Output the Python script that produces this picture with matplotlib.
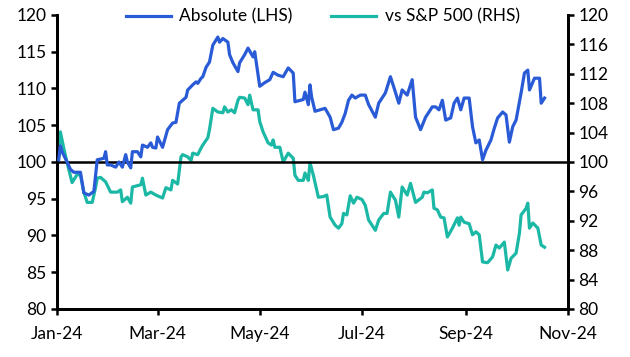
import numpy as np
import pandas as pd
import matplotlib
matplotlib.use("Agg")
import matplotlib.pyplot as plt
import matplotlib.dates as mdates

plt.rcParams['font.family'] = ['Lato', 'DejaVu Sans']

# Absolute index (LHS)
abs_dates = ["2024-01-02", "2024-01-03", "2024-01-04", "2024-01-07", "2024-01-09", "2024-01-11",
             "2024-01-15", "2024-01-17", "2024-01-20", "2024-01-23", "2024-01-25", "2024-01-29",
             "2024-01-30", "2024-01-31", "2024-02-02", "2024-02-05", "2024-02-07", "2024-02-09",
             "2024-02-11", "2024-02-12", "2024-02-14", "2024-02-15", "2024-02-18", "2024-02-20",
             "2024-02-21", "2024-02-24", "2024-02-26", "2024-02-27", "2024-02-29", "2024-03-01",
             "2024-03-04", "2024-03-07", "2024-03-10", "2024-03-12", "2024-03-14", "2024-03-18",
             "2024-03-19", "2024-03-22", "2024-03-24", "2024-03-25", "2024-03-27", "2024-03-28",
             "2024-03-30", "2024-04-01", "2024-04-03", "2024-04-06", "2024-04-07", "2024-04-09",
             "2024-04-12", "2024-04-13", "2024-04-15", "2024-04-18", "2024-04-19", "2024-04-22",
             "2024-04-24", "2024-04-27", "2024-04-28", "2024-05-01", "2024-05-04", "2024-05-07",
             "2024-05-09", "2024-05-12", "2024-05-15", "2024-05-18", "2024-05-21", "2024-05-22",
             "2024-05-27", "2024-05-28", "2024-05-30", "2024-05-31", "2024-06-01", "2024-06-03",
             "2024-06-06", "2024-06-09", "2024-06-12", "2024-06-14", "2024-06-17", "2024-06-19",
             "2024-06-21", "2024-06-23", "2024-06-25", "2024-06-27", "2024-06-30", "2024-07-03",
             "2024-07-05", "2024-07-09", "2024-07-11", "2024-07-15", "2024-07-18", "2024-07-20",
             "2024-07-23", "2024-07-25", "2024-07-28", "2024-07-31", "2024-08-02", "2024-08-05",
             "2024-08-08", "2024-08-12", "2024-08-14", "2024-08-16", "2024-08-18", "2024-08-20",
             "2024-08-23", "2024-08-25", "2024-08-27", "2024-08-29", "2024-08-31", "2024-09-03",
             "2024-09-05", "2024-09-07", "2024-09-09", "2024-09-11", "2024-09-13", "2024-09-16",
             "2024-09-18", "2024-09-20", "2024-09-23", "2024-09-25", "2024-09-27", "2024-09-29",
             "2024-10-01", "2024-10-04", "2024-10-06", "2024-10-08", "2024-10-09", "2024-10-12",
             "2024-10-15", "2024-10-16", "2024-10-18"]
abs_values = [100.3, 102.2, 101.4, 100.0, 99.0, 98.6,
              98.6, 95.8, 95.5, 96.0, 100.3, 100.5,
              101.4, 99.6, 99.6, 99.3, 100.0, 99.3,
              101.0, 100.0, 99.2, 101.4, 101.4, 100.7,
              102.3, 102.0, 102.6, 102.0, 101.9, 103.4,
              102.0, 104.4, 105.3, 105.4, 108.0, 108.8,
              109.8, 110.5, 110.9, 110.7, 111.4, 111.6,
              112.9, 113.6, 115.9, 117.0, 116.3, 116.8,
              116.3, 114.6, 113.5, 112.3, 113.5, 114.6,
              115.5, 114.3, 115.0, 110.3, 110.8, 111.2,
              112.2, 111.8, 111.6, 112.8, 112.1, 108.2,
              108.5, 109.5, 107.8, 110.5, 108.8, 106.9,
              107.1, 107.3, 106.1, 104.4, 104.6, 105.4,
              106.6, 108.4, 109.1, 108.7, 109.1, 109.1,
              107.8, 106.1, 108.0, 109.4, 111.6, 110.2,
              108.0, 109.8, 109.1, 111.2, 106.1, 104.4,
              106.1, 107.5, 107.5, 107.1, 108.4, 105.7,
              106.0, 108.0, 108.7, 107.1, 108.7, 108.7,
              104.8, 102.6, 103.0, 100.3, 101.6, 103.0,
              104.6, 106.0, 106.8, 106.4, 102.7, 104.8,
              105.7, 109.4, 112.1, 112.5, 109.8, 111.4,
              111.4, 108.0, 108.7]

# Relative to S&P 500 (RHS)
rel_dates = ["2024-01-02", "2024-01-03", "2024-01-05", "2024-01-07", "2024-01-10", "2024-01-13",
             "2024-01-15", "2024-01-17", "2024-01-19", "2024-01-22", "2024-01-24", "2024-01-25",
             "2024-01-27", "2024-01-30", "2024-02-02", "2024-02-06", "2024-02-08", "2024-02-09",
             "2024-02-12", "2024-02-14", "2024-02-15", "2024-02-20", "2024-02-21", "2024-02-23",
             "2024-02-26", "2024-02-29", "2024-03-04", "2024-03-06", "2024-03-09", "2024-03-10",
             "2024-03-13", "2024-03-15", "2024-03-16", "2024-03-19", "2024-03-21", "2024-03-22",
             "2024-03-25", "2024-03-27", "2024-03-28", "2024-03-31", "2024-04-01", "2024-04-03",
             "2024-04-06", "2024-04-09", "2024-04-10", "2024-04-12", "2024-04-14", "2024-04-16",
             "2024-04-18", "2024-04-19", "2024-04-22", "2024-04-24", "2024-04-25", "2024-04-27",
             "2024-04-30", "2024-05-01", "2024-05-03", "2024-05-06", "2024-05-08", "2024-05-09",
             "2024-05-10", "2024-05-13", "2024-05-15", "2024-05-18", "2024-05-21", "2024-05-22",
             "2024-05-24", "2024-05-27", "2024-05-28", "2024-05-30", "2024-05-31", "2024-06-02",
             "2024-06-05", "2024-06-08", "2024-06-10", "2024-06-12", "2024-06-15", "2024-06-17",
             "2024-06-19", "2024-06-20", "2024-06-22", "2024-06-24", "2024-06-26", "2024-06-28",
             "2024-07-01", "2024-07-03", "2024-07-05", "2024-07-09", "2024-07-11", "2024-07-14",
             "2024-07-16", "2024-07-18", "2024-07-21", "2024-07-23", "2024-07-25", "2024-07-28",
             "2024-07-30", "2024-08-02", "2024-08-06", "2024-08-07", "2024-08-09", "2024-08-12",
             "2024-08-13", "2024-08-15", "2024-08-17", "2024-08-19", "2024-08-21", "2024-08-24",
             "2024-08-27", "2024-08-28", "2024-08-29", "2024-08-31", "2024-09-03", "2024-09-05",
             "2024-09-07", "2024-09-09", "2024-09-11", "2024-09-14", "2024-09-17", "2024-09-19",
             "2024-09-21", "2024-09-24", "2024-09-26", "2024-09-28", "2024-10-01", "2024-10-03",
             "2024-10-04", "2024-10-07", "2024-10-08", "2024-10-09", "2024-10-11", "2024-10-14",
             "2024-10-16", "2024-10-18"]
rel_values = [100.8, 104.1, 101.9, 99.9, 97.2, 98.3,
              98.2, 95.9, 94.5, 94.5, 96.5, 97.8,
              97.9, 97.3, 95.9, 95.9, 96.2, 94.6,
              95.2, 94.4, 96.6, 96.9, 97.8, 95.5,
              95.9, 95.5, 95.1, 96.5, 96.2, 97.5,
              97.0, 100.7, 101.0, 100.7, 100.2, 101.2,
              101.0, 101.9, 102.3, 103.3, 104.4, 107.3,
              106.8, 106.7, 107.5, 106.8, 107.1, 106.7,
              108.4, 108.8, 108.7, 107.8, 109.1, 107.1,
              107.1, 105.5, 104.1, 102.6, 102.3, 103.0,
              102.0, 102.0, 100.0, 101.2, 100.5, 98.2,
              97.5, 97.5, 98.5, 97.5, 99.9, 98.2,
              95.2, 95.3, 95.5, 92.5, 91.4, 91.0,
              91.6, 93.0, 92.8, 95.4, 94.4, 95.2,
              94.9, 94.1, 92.1, 90.7, 92.1, 93.0,
              93.0, 95.9, 94.8, 92.5, 96.6, 95.5,
              97.1, 94.5, 95.2, 95.9, 95.8, 96.2,
              93.7, 93.5, 92.5, 92.4, 89.8, 91.0,
              92.4, 91.4, 92.5, 91.8, 91.6, 90.1,
              90.5, 90.1, 86.4, 86.3, 87.1, 88.7,
              88.3, 89.1, 85.3, 86.9, 87.6, 90.3,
              92.8, 93.7, 94.4, 91.0, 91.7, 91.0,
              88.7, 88.4]

abs_x = pd.to_datetime(abs_dates)
rel_x = pd.to_datetime(rel_dates)

blue = '#2a5bd7'
teal = '#1bb8a6'

fig, ax1 = plt.subplots(figsize=(6.3, 3.57), dpi=100)
fig.subplots_adjust(left=0.0905, right=0.9016, top=0.958, bottom=0.1345)

ax1.plot(abs_x, abs_values, color=blue, linewidth=2.3, label="Absolute (LHS)", zorder=3)
ax1.axhline(100, color='black', linewidth=1.8, zorder=2)
ax1.set_ylim(80, 120)
ax1.set_yticks(np.arange(80, 121, 5))
ax1.set_xlim(pd.Timestamp("2024-01-01"), pd.Timestamp("2024-11-01"))
ax1.xaxis.set_major_locator(mdates.MonthLocator(bymonth=[1, 3, 5, 7, 9, 11]))
ax1.xaxis.set_major_formatter(mdates.DateFormatter("%b-%y"))

ax2 = ax1.twinx()
ax2.plot(rel_x, rel_values, color=teal, linewidth=2.3, label="vs S&P 500 (RHS)", zorder=3)
ax2.set_ylim(80, 120)
ax2.set_yticks(np.arange(80, 121, 4))
ax1.set_zorder(ax2.get_zorder() + 1)
ax1.patch.set_visible(False)

for ax in (ax1, ax2):
    ax.spines['top'].set_visible(False)
    for s in ('left', 'right', 'bottom'):
        ax.spines[s].set_linewidth(2.0)
    ax.tick_params(labelsize=12.5, width=1.8, length=4, colors='black')
ax1.tick_params(axis='x', pad=8)

h1, l1 = ax1.get_legend_handles_labels()
h2, l2 = ax2.get_legend_handles_labels()
ax1.legend(h1 + h2, l1 + l2, loc='upper center', bbox_to_anchor=(0.52, 1.075), ncol=2,
           frameon=False, fontsize=12.5, handlelength=2.6, columnspacing=2.2,
           handletextpad=0.5)

fig.savefig("out.png", dpi=100)
